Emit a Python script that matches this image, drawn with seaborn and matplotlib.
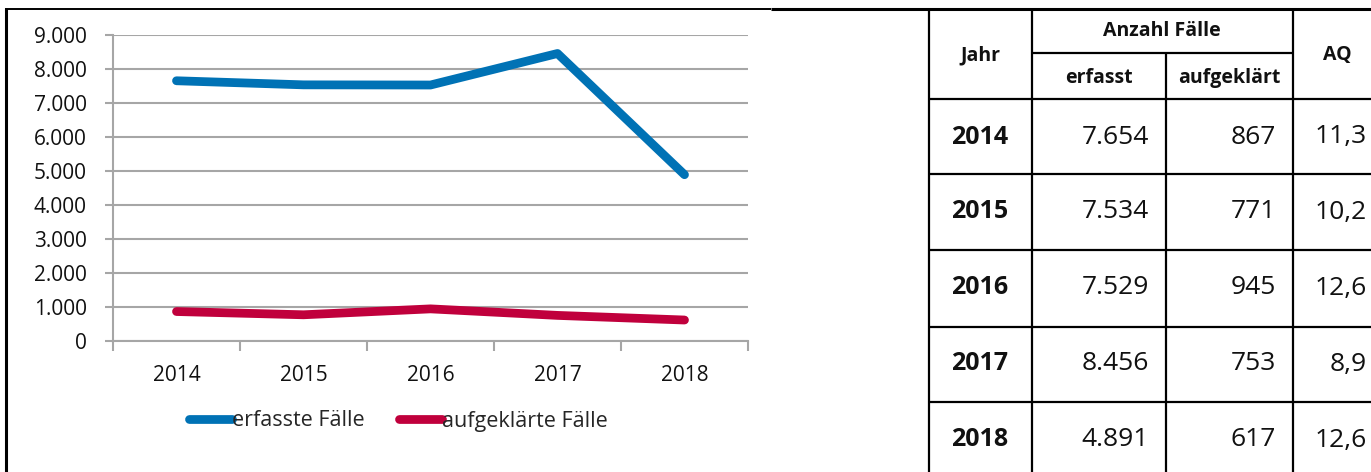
# Line chart (erfasste / aufgeklärte Fälle) + table on the right

import pandas as pd
import matplotlib.pyplot as plt
import seaborn as sns
from matplotlib.ticker import FuncFormatter

# ============ DATA ============
years = ["2014", "2015", "2016", "2017", "2018"]
erfasst = [7654, 7534, 7529, 8456, 4891]
aufgeklaert = [867, 771, 945, 753, 617]
aq = [11.3, 10.2, 12.6, 8.9, 12.6]
series_labels = ["erfasste Fälle", "aufgeklärte Fälle"]
y_ticks = [0, 1000, 2000, 3000, 4000, 5000, 6000, 7000, 8000, 9000]
# ==============================

BLUE = "#0072B5"
RED = "#C0003C"
GRID = "#A6A6A6"

sns.set_theme(style="white")
plt.rcParams["font.family"] = ["Open Sans", "DejaVu Sans"]

W, H = 1371, 472


def de_int(v):
    return f"{int(v):,}".replace(",", ".")


def px_box(x0, y0, x1, y1):
    return [x0 / W, 1 - y1 / H, (x1 - x0) / W, (y1 - y0) / H]


df = pd.DataFrame({
    "Jahr": years * 2,
    "Fälle": erfasst + aufgeklaert,
    "Serie": [series_labels[0]] * len(years) + [series_labels[1]] * len(years),
})

fig = plt.figure(figsize=(W / 100, H / 100), dpi=100)

# --- overlay in pixel coords for frame + table ---
ax_t = fig.add_axes([0, 0, 1, 1])
ax_t.set_xlim(0, W)
ax_t.set_ylim(H, 0)
ax_t.axis("off")

# frame around the chart
ax_t.plot([6, 6], [8, H], color="black", lw=2.2, solid_capstyle="butt")
ax_t.plot([5, 771], [8.5, 8.5], color="black", lw=1.4, solid_capstyle="butt")

# --- table ---
row_lines = [99, 174, 250, 327, 402]
lw = 1.6
ax_t.plot([771, W], [9, 9], color="black", lw=2.2, solid_capstyle="butt")
for x in [929, 1032, 1293]:
    ax_t.plot([x, x], [9, H], color="black", lw=lw, solid_capstyle="butt")
ax_t.plot([1166, 1166], [53, H], color="black", lw=lw, solid_capstyle="butt")
ax_t.plot([1032, 1293], [53, 53], color="black", lw=lw, solid_capstyle="butt")
for y in row_lines:
    ax_t.plot([929, W], [y, y], color="black", lw=lw, solid_capstyle="butt")

hdr = dict(fontsize=14, fontweight="bold", va="center", color="#111111")
ax_t.text(980, 55, "Jahr", ha="center", **hdr)
ax_t.text(1162, 31, "Anzahl Fälle", ha="center", **hdr)
ax_t.text(1099, 78, "erfasst", ha="center", **hdr)
ax_t.text(1229, 78, "aufgeklärt", ha="center", **hdr)
ax_t.text(1337, 55, "AQ", ha="center", **hdr)

row_mid = [137, 212, 288, 364, 440]
for i, y in enumerate(row_mid):
    ax_t.text(980, y, years[i], ha="center", va="center", fontsize=18,
              fontweight="bold", color="#111111")
    ax_t.text(1149, y, de_int(erfasst[i]), ha="right", va="center", fontsize=19, color="#111111")
    ax_t.text(1276, y, de_int(aufgeklaert[i]), ha="right", va="center", fontsize=19, color="#111111")
    ax_t.text(1367, y, f"{aq[i]:.1f}".replace(".", ","), ha="right", va="center",
              fontsize=19, color="#111111")

# --- line chart ---
ax = fig.add_axes(px_box(113, 35, 748, 341))
sns.lineplot(data=df, x="Jahr", y="Fälle", hue="Serie", palette=[BLUE, RED],
             linewidth=6.3, sort=False, ax=ax)
for line in ax.lines:
    line.set_solid_capstyle("round")

ax.set_xlim(-0.5, len(years) - 0.5)
ax.set_ylim(0, 9000)
ax.set_yticks(y_ticks)
ax.yaxis.set_major_formatter(FuncFormatter(lambda v, p: de_int(v)))
ax.set_xticks([i - 0.5 for i in range(len(years) + 1)], minor=True)
ax.set_xlabel("")
ax.set_ylabel("")

ax.grid(axis="y", color=GRID, lw=1.5)
ax.set_axisbelow(True)
for s in ["top", "right"]:
    ax.spines[s].set_visible(False)
for s in ["left", "bottom"]:
    ax.spines[s].set_color(GRID)
    ax.spines[s].set_linewidth(1.5)

ax.tick_params(axis="y", which="major", left=True, length=6, width=1.5, color=GRID,
               pad=13, labelsize=15, labelcolor="#111111")
ax.tick_params(axis="x", which="major", bottom=False, pad=11, labelsize=15,
               labelcolor="#111111")
ax.tick_params(axis="x", which="minor", bottom=True, length=7, width=1.5, color=GRID)

handles, labels = ax.get_legend_handles_labels()
leg = ax.legend(handles, labels, loc="center", bbox_to_anchor=(398 / W, 1 - 421 / H),
                bbox_transform=fig.transFigure, ncol=2, frameon=False, fontsize=15.5,
                handlelength=2.0, handletextpad=0.0, columnspacing=1.6)
for line in leg.get_lines():
    line.set_solid_capstyle("round")
    line.set_linewidth(6.3)

fig.savefig("out.png", dpi=100)
